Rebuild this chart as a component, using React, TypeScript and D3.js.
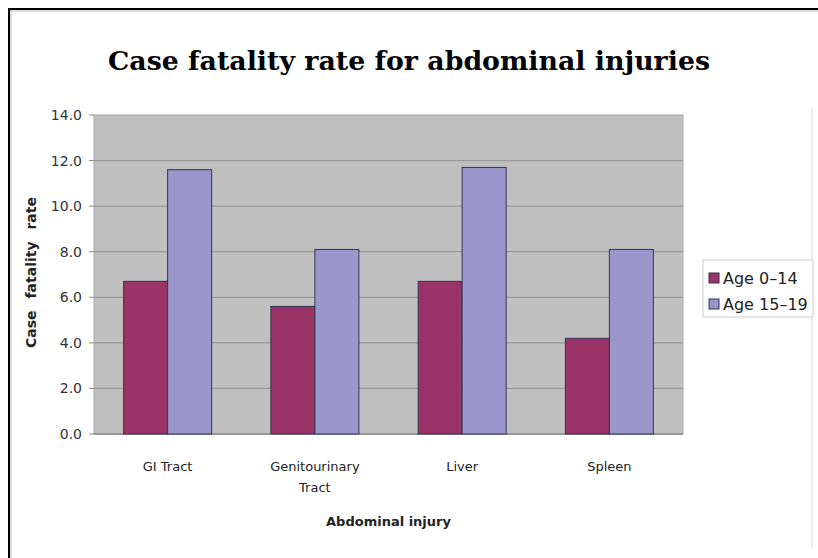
import * as d3 from "d3";

const categories = ["GI Tract", "Genitourinary\nTract", "Liver", "Spleen"];
const seriesNames = ["Age 0–14", "Age 15–19"];
const age0to14 = [6.7, 5.6, 6.7, 4.2];
const age15to19 = [11.6, 8.1, 11.7, 8.1];
const yTicks = [0, 2, 4, 6, 8, 10, 12, 14];
const colors = ["#993366", "#9a97cc"];

export default function App() {
  const width = 818;
  const height = 558;
  const plot = { left: 94, right: 683, top: 115, bottom: 434 };

  const x = d3
    .scaleBand<string>()
    .domain(categories)
    .range([plot.left, plot.right]);
  const inner = d3
    .scaleBand<string>()
    .domain(seriesNames)
    .range([0, 88]);
  const y = d3.scaleLinear().domain([0, 14]).range([plot.bottom, plot.top]);
  const series = [age0to14, age15to19];
  const font = "'DejaVu Sans', Arial, sans-serif";

  return (
    <div style={{ position: "fixed", left: 0, top: 0 }}>
      <svg width={width} height={height} style={{ display: "block" }}>
        <rect width={width} height={height} fill="#fff" />
        {/* outer frame */}
        <line x1={8} y1={11} x2={width} y2={11} stroke="#bbb" strokeWidth={1} />
        <line x1={11} y1={9} x2={11} y2={height} stroke="#bbb" strokeWidth={1} />
        <line x1={8} y1={9} x2={width} y2={9} stroke="#000" strokeWidth={2} />
        <line x1={9} y1={8} x2={9} y2={height} stroke="#000" strokeWidth={2} />
        <line x1={812} y1={108} x2={812} y2={548} stroke="#e6e6e6" strokeWidth={1.5} />

        <text
          x={409}
          y={70}
          textAnchor="middle"
          fontFamily="'DejaVu Serif', serif"
          fontWeight="bold"
          fontSize={26}
          textLength={602}
          lengthAdjust="spacingAndGlyphs"
          fill="#000"
        >
          Case fatality rate for abdominal injuries
        </text>

        {/* plot area */}
        <rect
          x={plot.left}
          y={plot.top}
          width={plot.right - plot.left}
          height={plot.bottom - plot.top}
          fill="#c0c0c0"
          stroke="#a8a8a8"
        />
        {yTicks.map((t) => (
          <g key={t}>
            {t > 0 && t < 14 && (
              <line
                x1={plot.left}
                x2={plot.right}
                y1={y(t)}
                y2={y(t)}
                stroke="#9a9a9a"
                strokeWidth={1.2}
              />
            )}
            <line
              x1={plot.left - 5}
              x2={plot.left}
              y1={y(t)}
              y2={y(t)}
              stroke="#888"
            />
            <text
              x={82}
              y={y(t) + 5}
              textAnchor="end"
              fontFamily={font}
              fontSize={14}
              fill="#333"
            >
              {t.toFixed(1)}
            </text>
          </g>
        ))}
        <line
          x1={plot.left}
          x2={plot.right}
          y1={plot.bottom}
          y2={plot.bottom}
          stroke="#888"
          strokeWidth={1.5}
        />

        {categories.map((c, i) => {
          const cx = x(c)! + x.bandwidth() / 2;
          const gx = cx - 44;
          const lines = c.split("\n");
          return (
            <g key={c}>
              {series.map((vals, s) => (
                <rect
                  key={s}
                  x={gx + inner(seriesNames[s])!}
                  y={y(vals[i])}
                  width={inner.bandwidth()}
                  height={y(0) - y(vals[i])}
                  fill={colors[s]}
                  stroke="#333355"
                  strokeWidth={1}
                />
              ))}
              {lines.map((l, k) => (
                <text
                  key={k}
                  x={cx}
                  y={471 + k * 21}
                  textAnchor="middle"
                  fontFamily={font}
                  fontSize={13}
                  fill="#222"
                >
                  {l}
                </text>
              ))}
            </g>
          );
        })}

        <text
          x={(plot.left + plot.right) / 2}
          y={526}
          textAnchor="middle"
          fontFamily={font}
          fontWeight="bold"
          fontSize={13}
          fill="#222"
        >
          Abdominal injury
        </text>
        <text
          transform={`translate(36,${(plot.top + plot.bottom) / 2 - 2}) rotate(-90)`}
          textAnchor="middle"
          fontFamily={font}
          fontWeight="bold"
          fontSize={14}
          wordSpacing={7}
          fill="#222"
        >
          Case fatality rate
        </text>

        {/* legend */}
        <rect x={703} y={260} width={110} height={57} fill="#fff" stroke="#ccc" />
        {seriesNames.map((n, s) => (
          <g key={n}>
            <rect
              x={709}
              y={278 + s * 26 - 5}
              width={10}
              height={10}
              fill={colors[s]}
              stroke="#333355"
            />
            <text
              x={723}
              y={278 + s * 26 + 6}
              fontFamily={font}
              fontSize={16}
              fill="#222"
            >
              {n}
            </text>
          </g>
        ))}
      </svg>
    </div>
  );
}
